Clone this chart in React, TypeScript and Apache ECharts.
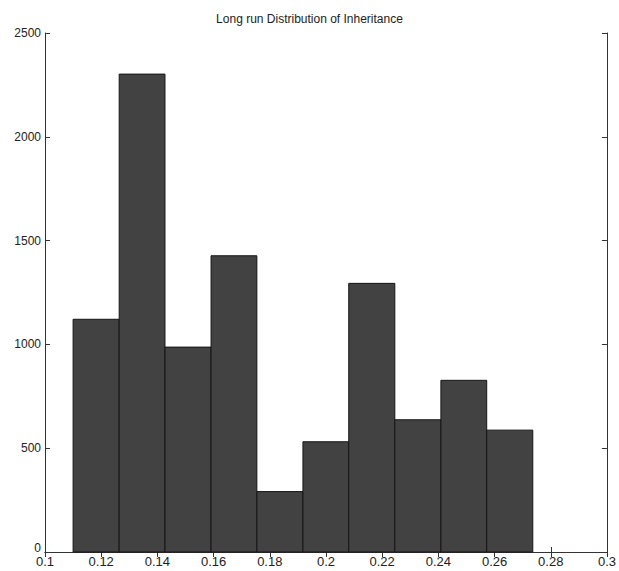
import React, { useEffect, useRef } from "react";
import * as echarts from "echarts";

const title = "Long run Distribution of Inheritance";
const binEdges = [0.1100, 0.1264, 0.1427, 0.1591, 0.1754, 0.1918, 0.2081, 0.2245, 0.2409, 0.2572, 0.2736];
const counts = [1121, 2302, 987, 1427, 291, 531, 1294, 637, 827, 587];
const xTicks = { min: 0.1, max: 0.3, interval: 0.02 };
const yTicks = { min: 0, max: 2500, interval: 500 };

const FONT = "'Liberation Sans Narrow', 'Arial Narrow', 'Liberation Sans', Arial, sans-serif";

export default function App() {
  const ref = useRef<HTMLDivElement>(null);
  useEffect(() => {
    document.body.style.margin = "0";
    const chart = echarts.init(ref.current!, null, { renderer: "svg" });
    const data = counts.map((c, i) => [binEdges[i], binEdges[i + 1], c]);
    const axisLine = { show: true, lineStyle: { color: "#333", width: 1 } };
    const tick = { show: true, inside: true, length: 5, lineStyle: { color: "#333" } };
    const xFmt = (v: number) => String(+v.toFixed(2));
    const yFmt = (v: number) => (v === 0 ? "{zero|0}" : String(v));
    chart.setOption({
      animation: false,
      backgroundColor: "#fff",
      title: {
        text: title,
        left: "center",
        top: 8,
        textStyle: { fontFamily: FONT, fontSize: 12, fontWeight: "normal", color: "#222" },
      },
      grid: { left: 45, right: 10, top: 33, bottom: 19, containLabel: false },
      xAxis: [
        {
          type: "value",
          min: xTicks.min,
          max: xTicks.max,
          interval: xTicks.interval,
          position: "bottom",
          axisLine,
          axisTick: tick,
          splitLine: { show: false },
          axisLabel: { formatter: xFmt, fontFamily: FONT, fontSize: 13, color: "#222", margin: 3 },
        },
        {
          type: "value",
          min: xTicks.min,
          max: xTicks.max,
          interval: xTicks.interval,
          position: "top",
          axisLine,
          axisTick: tick,
          splitLine: { show: false },
          axisLabel: { show: false },
        },
      ],
      yAxis: [
        {
          type: "value",
          min: yTicks.min,
          max: yTicks.max,
          interval: yTicks.interval,
          position: "left",
          axisLine,
          axisTick: tick,
          splitLine: { show: false },
          axisLabel: {
            formatter: yFmt,
            fontFamily: FONT,
            fontSize: 12,
            color: "#222",
            margin: 4,
            rich: { zero: { fontFamily: FONT, fontSize: 12, color: "#222", padding: [0, 0, 9, 0] } },
          },
        },
        {
          type: "value",
          min: yTicks.min,
          max: yTicks.max,
          interval: yTicks.interval,
          position: "right",
          axisLine,
          axisTick: tick,
          splitLine: { show: false },
          axisLabel: { show: false },
        },
      ],
      series: [
        {
          type: "custom",
          xAxisIndex: 0,
          yAxisIndex: 0,
          data,
          encode: { x: [0, 1], y: 2 },
          renderItem: (params: any, api: any) => {
            const p0 = api.coord([api.value(0), api.value(2)]);
            const p1 = api.coord([api.value(1), 0]);
            return {
              type: "rect",
              shape: { x: p0[0], y: p0[1], width: p1[0] - p0[0], height: p1[1] - p0[1] },
              style: { fill: "#424242", stroke: "#151515", lineWidth: 1 },
            };
          },
        },
      ],
    });
    return () => chart.dispose();
  }, []);
  return <div ref={ref} style={{ position: "absolute", left: 0, top: 0, width: 619, height: 571 }} />;
}
